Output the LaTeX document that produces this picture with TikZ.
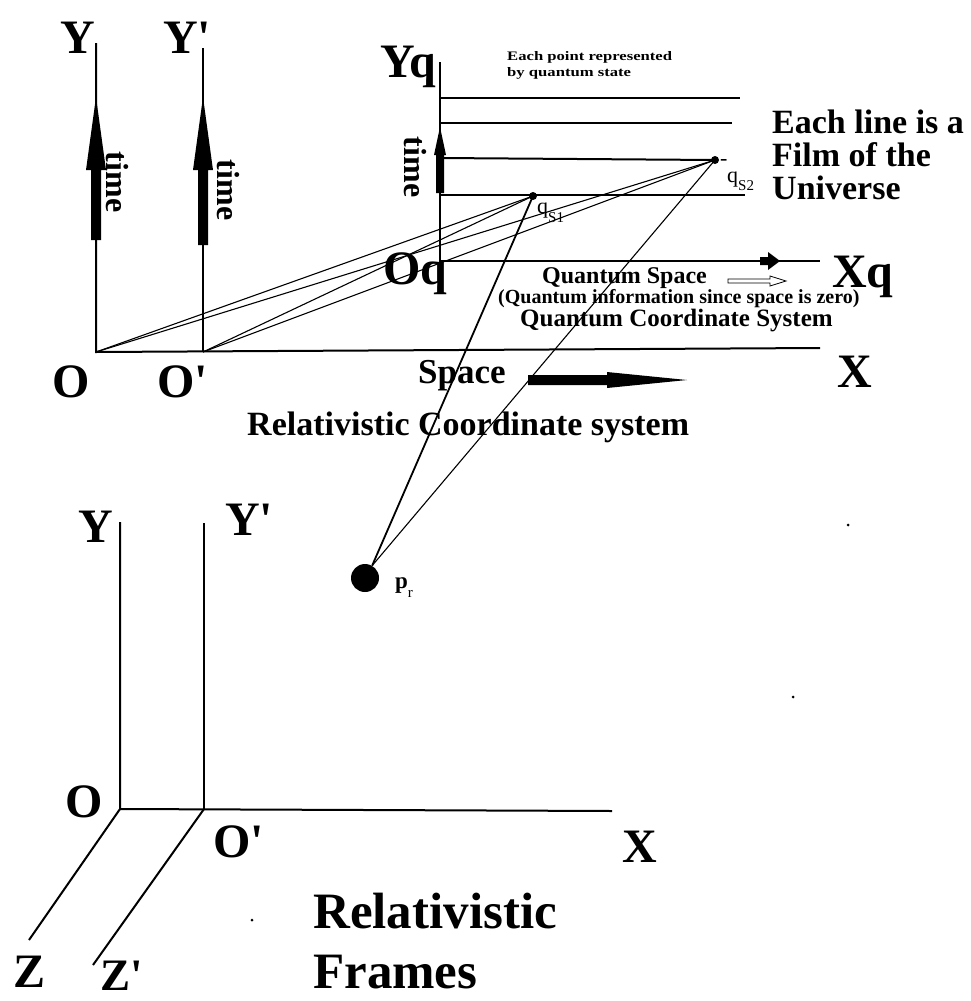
\documentclass[tikz,border=0pt]{standalone}
\usepackage{fontspec}
\setmainfont{Liberation Serif}
\usepackage{graphicx}
\newcommand\myfs[1]{\fontsize{#1}{#1}\selectfont}
\begin{document}
\begin{tikzpicture}[x=1pt,y=-1pt,
  axis/.style={line width=2pt},
  thinline/.style={line width=1.1pt},
  lbl/.style={inner sep=0pt, anchor=base west},
  big/.style={lbl, font=\bfseries\myfs{48}},
  mid/.style={lbl, font=\bfseries\myfs{34}},
  timelbl/.style={inner sep=0pt, rotate=-90, font=\bfseries\myfs{32}},
  sym/.style={lbl, font=\myfs{22}}]
\useasboundingbox (0,0) rectangle (971,1001);

% ---------- named points ----------
\coordinate (O) at (96,352);
\coordinate (Ytop) at (96,43);
\coordinate (Op) at (203,352);
\coordinate (Yptop) at (203,48);
\coordinate (Xend) at (820,348);
\coordinate (Oq) at (440,261);
\coordinate (Yqtop) at (440,62);
\coordinate (Xqend) at (820,261);
\coordinate (qs1) at (533,196);
\coordinate (qs2) at (715,160);
\coordinate (f1a) at (440,98);  \coordinate (f1b) at (740,98);
\coordinate (f2a) at (440,123); \coordinate (f2b) at (732,123);
\coordinate (f3a) at (440,158);
\coordinate (f4a) at (440,195); \coordinate (f4b) at (745,195);

% ---------- upper axes ----------
\draw[axis] (Ytop) -- (O) -- (Xend);
\draw[axis] (Yptop) -- (Op);
\draw[axis] (Yqtop) -- (Oq) -- (Xqend);
\draw[axis] (f1a) -- (f1b);
\draw[axis] (f2a) -- (f2b);
\draw[axis] (f3a) -- (qs2);
\draw[axis] (f4a) -- (f4b);

% ---------- thick time arrows ----------
\fill (91,240) -- (91,170) -- (86,170) -- (96,97) -- (106,170) -- (101,170) -- (101,240) -- cycle;
\fill (198,245) -- (198,170) -- (193,170) -- (203,97) -- (213,170) -- (208,170) -- (208,245) -- cycle;
\fill (436,193) -- (436,155) -- (434,155) -- (440,127) -- (446,155) -- (444,155) -- (444,193) -- cycle;

% Space arrow
\fill (528,375) -- (607,375) -- (607,372) -- (687,380) -- (607,388) -- (607,385) -- (528,385) -- cycle;
% small arrow on Xq
\fill (760,257) -- (768,257) -- (768,252) -- (780,261) -- (768,270) -- (768,265) -- (760,265) -- cycle;
% hollow arrow
\draw[line width=0.8pt, fill=white] (728,279) -- (770,279) -- (770,276) -- (786,281) -- (770,286) -- (770,283) -- (728,283) -- cycle;

% ---------- points ----------
\fill (qs1) circle (4);
\fill (qs2) circle (4);
\node[circle, fill, minimum size=28pt, inner sep=0pt] (prdot) at (365,578) {};

% ---------- connectors ----------
\draw[thinline] (O) -- (qs1);
\draw[thinline] (O) -- (qs2);
\draw[thinline] (Op) -- (qs1);
\draw[thinline] (Op) -- (qs2);
\draw[line width=1.8pt] (qs1) -- (prdot.60);
\draw[thinline] (qs2) -- (prdot.60);

% ---------- upper labels ----------
\node[big] (lY) at (60,53) {Y};
\node[big] (lYp) at (163,53) {Y\textquotesingle};
\node[big] (lYq) at (380,77) {Yq};
\node[big] (lO) at (52,397) {O};
\node[big] (lOp) at (157,397) {O\textquotesingle};
\node[big] (lOq) at (383,284) {Oq};
\node[big] (lXq) at (832,287) {Xq};
\node[big] (lX) at (837,387) {X};

\node[timelbl] (t1) at (117,182) {time};
\node[timelbl] (t2) at (228,190) {time};
\node[timelbl] (t3) at (415,167) {time};

\node[lbl, font=\bfseries\myfs{13}] (pt1) at (507,60) {\scalebox{1.28}[1]{Each point represented}};
\node[lbl, font=\bfseries\myfs{13}] (pt2) at (507,76) {\scalebox{1.28}[1]{by quantum state}};

\node[mid] (e1) at (772,133) {Each line is a};
\node[mid] (e2) at (772,166) {Film of the};
\node[mid] (e3) at (772,199) {Universe};

\node[sym] (lqs1) at (537,213) {q\raisebox{-9pt}{\myfs{15}S1}};
\node[sym] (lqs2) at (727,182) {\makebox[0pt][l]{\hspace{-7pt}\raisebox{17pt}{-}}q\raisebox{-8pt}{\myfs{15}S2}};
\node[sym, font=\bfseries\myfs{23}] (lpr) at (395,588) {p\raisebox{-9pt}{\myfs{15}\mdseries r}};

\node[lbl, font=\bfseries\myfs{24}] (qsp) at (542,283) {Quantum Space};
\node[lbl, font=\bfseries\myfs{20}] (qinf) at (498,303) {(Quantum information since space is zero)};
\node[lbl, font=\bfseries\myfs{25}] (qcs) at (520,326) {Quantum Coordinate System};

\node[lbl, font=\bfseries\myfs{35}] (spc) at (418,383) {Space};
\node[mid] (rcs) at (247,435) {Relativistic Coordinate system};

% ---------- lower frames ----------
\coordinate (LO) at (120,809);
\coordinate (LY) at (120,522);
\coordinate (LOp) at (204,809);
\coordinate (LYp) at (204,523);
\coordinate (LX) at (612,811);
\coordinate (LZ) at (29,940);
\coordinate (LZp) at (93,965);
\draw[axis] (LY) -- (LO) -- (LX);
\draw[axis] (LYp) -- (LOp);
\draw[axis] (LO) -- (LZ);
\draw[axis] (LOp) -- (LZp);

\node[big] (lY2) at (78,542) {Y};
\node[big] (lYp2) at (225,535) {Y\textquotesingle};
\node[big] (lO2) at (65,817) {O};
\node[big] (lOp2) at (213,857) {O\textquotesingle};
\node[big] (lX2) at (622,862) {X};
\node[big] (lZ) at (13,987) {Z};
\node[big, text depth=0pt, font=\bfseries\myfs{45}] (lZp) at (100,990) {Z\textquotesingle};

\node[lbl, font=\bfseries\myfs{51}] (rf1) at (313,928) {Relativistic};
\node[lbl, font=\bfseries\myfs{51}] (rf2) at (313,988) {Frames};

% stray specks
\fill (252,920) circle (1.5);
\fill (848,525) circle (1.5);
\fill (793,697) circle (1.5);
\end{tikzpicture}
\end{document}
